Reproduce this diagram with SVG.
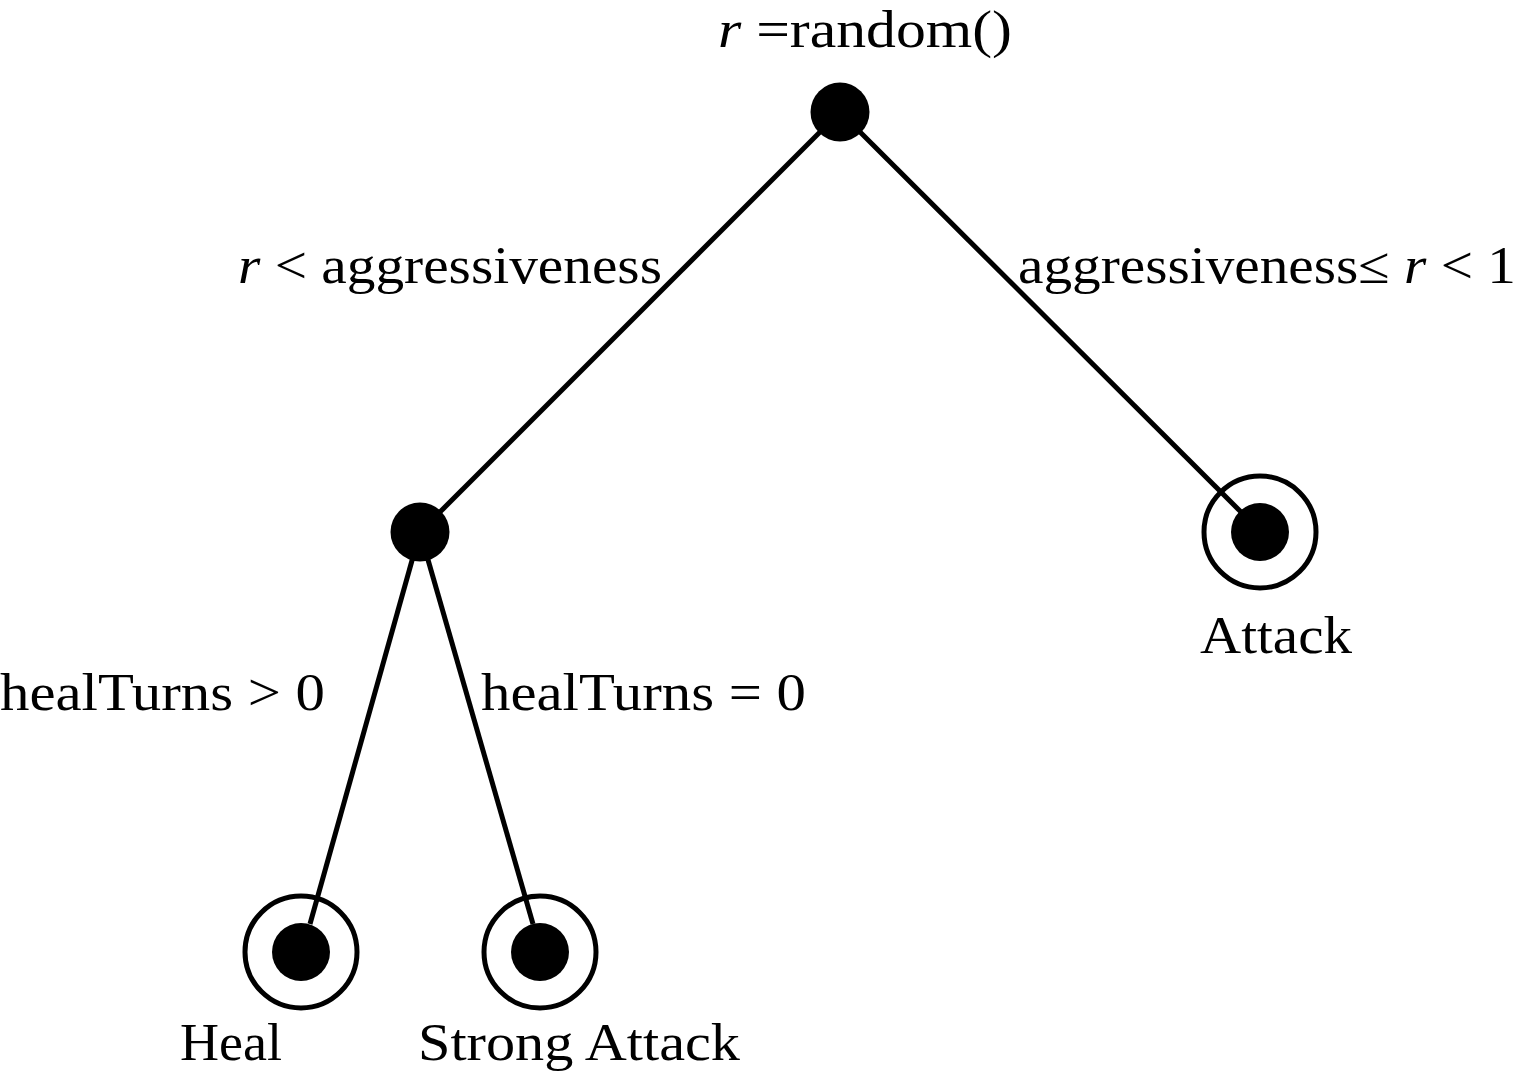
<svg xmlns="http://www.w3.org/2000/svg" width="1516" height="1072" viewBox="0 0 1516 1072">
<style>
  .lbl { font-family: "Liberation Serif", "DejaVu Serif", serif; font-size: 52px; fill: #000; }
  .it { font-style: italic; }
  .edge { stroke: #000; stroke-width: 5; fill: none; stroke-linecap: butt; }
  .dot { fill: #000; }
  .ring { fill: none; stroke: #000; stroke-width: 5; }
</style>
<rect width="1516" height="1072" fill="#fff"/>
<g id="connectors">
  <line class="edge" x1="840" y1="112" x2="420" y2="532"/>
  <line class="edge" x1="840" y1="112" x2="1241" y2="512"/>
  <line class="edge" x1="420" y1="532" x2="310" y2="924"/>
  <line class="edge" x1="420" y1="532" x2="533" y2="924"/>
  <text class="lbl" x="238" y="283" textLength="424" lengthAdjust="spacingAndGlyphs"><tspan class="it">r</tspan> &lt; aggressiveness</text>
  <text class="lbl" x="1018" y="283" textLength="498" lengthAdjust="spacingAndGlyphs">aggressiveness≤ <tspan class="it">r</tspan> &lt; 1</text>
  <text class="lbl" x="0" y="710" textLength="325" lengthAdjust="spacingAndGlyphs">healTurns &gt; 0</text>
  <text class="lbl" x="481" y="710" textLength="325" lengthAdjust="spacingAndGlyphs">healTurns = 0</text>
</g>
<g id="root">
  <circle class="dot" cx="840" cy="112" r="29.5"/>
  <text class="lbl" x="718" y="47" textLength="294" lengthAdjust="spacingAndGlyphs"><tspan class="it">r</tspan> =random()</text>
</g>
<g id="choice">
  <circle class="dot" cx="420" cy="532" r="29.5"/>
</g>
<g id="attack">
  <circle class="ring" cx="1260" cy="532" r="56"/>
  <circle class="dot" cx="1260" cy="532" r="29"/>
  <text class="lbl" x="1200" y="653" textLength="152" lengthAdjust="spacingAndGlyphs">Attack</text>
</g>
<g id="heal">
  <circle class="ring" cx="301" cy="952" r="56"/>
  <circle class="dot" cx="301" cy="952" r="29"/>
  <text class="lbl" x="180" y="1060" textLength="102" lengthAdjust="spacingAndGlyphs">Heal</text>
</g>
<g id="strong-attack">
  <circle class="ring" cx="540" cy="952" r="56"/>
  <circle class="dot" cx="540" cy="952" r="29"/>
  <text class="lbl" x="418" y="1060" textLength="322" lengthAdjust="spacingAndGlyphs">Strong Attack</text>
</g>
</svg>
